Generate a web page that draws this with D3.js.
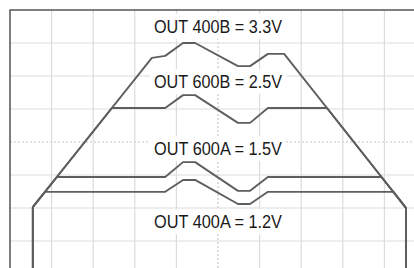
<!DOCTYPE html>
<html>
<head>
<meta charset="utf-8">
<script src="https://cdn.jsdelivr.net/npm/d3@7"></script>
<style>
  html, body { margin: 0; padding: 0; background: #fff; }
  svg { display: block; }
</style>
</head>
<body>
<svg id="chart" width="414" height="268"></svg>
<script>
// Scope screen: 10 horizontal x 8 vertical divisions; values in divisions
const xDivisions = [0, 1, 2, 3, 4, 5, 6, 7, 8, 9, 10];
const yDivisions = [0, 1, 2, 3, 4, 5, 6, 7, 8];

// Trace points [time div, level div]
const out400B = [[0.55,-0.3],[0.55,2.03],[3.41,6.55],[3.73,6.61],[4.16,7.0],[4.45,7.0],[5.48,6.30],[5.77,6.30],[6.20,6.67],[6.59,6.67],[9.52,2.0],[9.52,-0.3]];
const out600B = [[0.55,-0.3],[0.55,2.03],[2.45,5.03],[3.73,5.03],[4.16,5.42],[4.45,5.42],[5.48,4.58],[5.77,4.58],[6.20,5.03],[7.62,5.03],[9.52,2.0],[9.52,-0.3]];
const out600A = [[0.55,-0.3],[0.55,2.03],[1.13,2.94],[3.73,2.94],[4.16,3.39],[4.45,3.39],[5.48,2.52],[5.77,2.52],[6.20,2.94],[8.93,2.94],[9.52,2.0],[9.52,-0.3]];
const out400A = [[0.55,-0.3],[0.55,2.03],[0.84,2.49],[3.73,2.49],[4.16,2.85],[4.45,2.85],[5.48,2.12],[5.77,2.12],[6.20,2.49],[9.22,2.49],[9.52,2.0],[9.52,-0.3]];

const labels = ["OUT 400B = 3.3V", "OUT 600B = 2.5V", "OUT 600A = 1.5V", "OUT 400A = 1.2V"];
const labelLevels = [7.30, 5.64, 3.61, 1.39]; // baseline position in divisions
const labelTime = 5;

const svg = d3.select("#chart");
const x = d3.scaleLinear().domain([0, 10]).range([10, 426]);
const y = d3.scaleLinear().domain([0, 8]).range([274, 10]);

// grid
const g = svg.append("g");
g.selectAll(".vg").data(xDivisions.filter(d => d > 0 && d < 10)).join("line")
  .attr("x1", d => x(d)).attr("x2", d => x(d)).attr("y1", y(8)).attr("y2", y(0))
  .attr("stroke", d => d === 5 ? "#c8c8c8" : "#dcdcdc")
  .attr("stroke-width", 1.2)
  .attr("stroke-dasharray", d => d === 5 ? "2,2" : null);
g.selectAll(".hg").data(yDivisions.filter(d => d > 0 && d < 8)).join("line")
  .attr("x1", x(0)).attr("x2", x(10)).attr("y1", d => y(d)).attr("y2", d => y(d))
  .attr("stroke", d => d === 4 ? "#c8c8c8" : "#dcdcdc")
  .attr("stroke-width", 1.2)
  .attr("stroke-dasharray", d => d === 4 ? "2,2" : null);

// frame
svg.append("rect").attr("x", x(0)).attr("y", y(8)).attr("width", x(10) - x(0)).attr("height", y(0) - y(8))
  .attr("fill", "none").attr("stroke", "#555").attr("stroke-width", 1.5);

// labels with white boxes
const lg = svg.append("g");
labels.forEach((t, i) => {
  const by = y(labelLevels[i]);
  lg.append("rect").attr("x", x(labelTime) - 68).attr("y", by - 19).attr("width", 136).attr("height", 25).attr("fill", "#fff");
  lg.append("text").attr("x", x(labelTime)).attr("y", by)
    .attr("text-anchor", "middle")
    .attr("font-family", "'Liberation Sans', Arial, sans-serif")
    .attr("font-size", 18)
    .attr("textLength", 128)
    .attr("lengthAdjust", "spacingAndGlyphs")
    .attr("fill", "#1a1a1a")
    .text(t);
});

// traces
const clip = svg.append("clipPath").attr("id", "clip").append("rect")
  .attr("x", x(0)).attr("y", y(8)).attr("width", x(10) - x(0)).attr("height", y(0) - y(8));
const line = d3.line().x(d => x(d[0])).y(d => y(d[1]));
svg.append("g").attr("clip-path", "url(#clip)")
  .selectAll("path").data([out400B, out600B, out600A, out400A]).join("path")
  .attr("d", line)
  .attr("fill", "none").attr("stroke", "#5e5e5e").attr("stroke-width", 1.9)
  .attr("stroke-linejoin", "round");
</script>
</body>
</html>
